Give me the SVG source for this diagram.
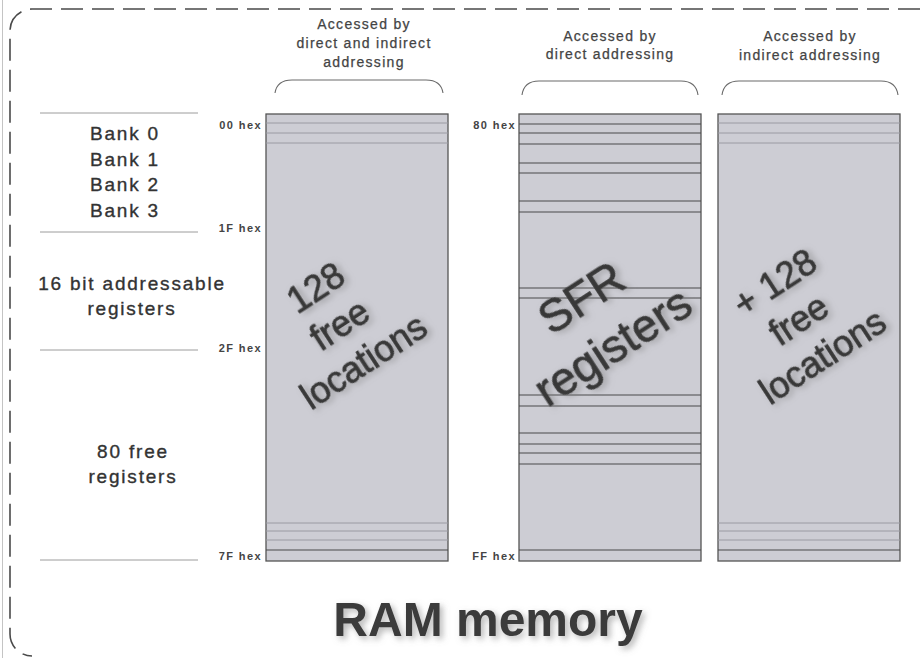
<svg xmlns="http://www.w3.org/2000/svg" width="920" height="658" viewBox="0 0 920 658">
<defs>
<style>
.frame{fill:none;stroke:#4a4a4a;stroke-width:1.6;stroke-dasharray:22 9}
.col{fill:#cdcdd4;stroke:#555;stroke-width:1.3}
.faint{stroke:#9a9aa2;stroke-width:1}
.dark{stroke:#4a4a4a;stroke-width:1.2}
.sep{stroke:#9c9c9c;stroke-width:1}
.brace{fill:none;stroke:#6a6a6a;stroke-width:1.1}
.hdr{font-family:"Liberation Sans",Arial,sans-serif;font-size:14px;fill:#444;stroke:#444;stroke-width:0.25;text-anchor:middle;letter-spacing:1.3px}
.lbl{font-family:"Liberation Sans",Arial,sans-serif;font-size:19px;fill:#333;stroke:#333;stroke-width:0.35;text-anchor:middle;letter-spacing:1.8px}
.hex{font-family:"Liberation Sans",Arial,sans-serif;font-size:11px;font-weight:bold;fill:#444;letter-spacing:1.4px;text-anchor:end}
.big{font-family:"Liberation Sans",Arial,sans-serif;fill:#383838;stroke:#383838;stroke-width:0.8;text-anchor:middle}
.title{font-family:"Liberation Sans",Arial,sans-serif;font-size:48px;font-weight:bold;fill:#3a3a3a;text-anchor:middle}
</style>
<filter id="sh" x="-20%" y="-20%" width="140%" height="140%">
<feDropShadow dx="3" dy="3" stdDeviation="3" flood-color="#777" flood-opacity="0.55"/>
</filter>
</defs>
<rect width="920" height="658" fill="#ffffff"/>
<line x1="2.5" y1="0" x2="2.5" y2="658" stroke="#c4c4c4" stroke-width="1"/>
<path class="frame" d="M 920 9 L 32 9 A 22 22 0 0 0 10 31 L 10 634 A 22 22 0 0 0 32 656"/>

<g id="left-labels">
<line class="sep" x1="40" y1="113" x2="198" y2="113"/>
<line class="sep" x1="40" y1="232" x2="198" y2="232"/>
<line class="sep" x1="40" y1="350" x2="198" y2="350"/>
<line class="sep" x1="40" y1="560" x2="198" y2="560"/>
<text class="lbl" x="125" y="140">Bank 0</text>
<text class="lbl" x="125" y="166">Bank 1</text>
<text class="lbl" x="125" y="191">Bank 2</text>
<text class="lbl" x="125" y="217">Bank 3</text>
<text class="lbl" x="132" y="290">16 bit addressable</text>
<text class="lbl" x="132" y="315">registers</text>
<text class="lbl" x="133" y="458">80 free</text>
<text class="lbl" x="133" y="483">registers</text>
</g>

<g id="hex-labels">
<text class="hex" x="262" y="129">00 hex</text>
<text class="hex" x="262" y="232">1F hex</text>
<text class="hex" x="262" y="352">2F hex</text>
<text class="hex" x="262" y="560">7F hex</text>
<text class="hex" x="516" y="129">80 hex</text>
<text class="hex" x="516" y="560">FF hex</text>
</g>

<g id="col1">
<text class="hdr" x="364" y="29">Accessed by</text>
<text class="hdr" x="364" y="48">direct and indirect</text>
<text class="hdr" x="364" y="67">addressing</text>
<path class="brace" d="M 275 93 Q 277 80 292 80 L 426 80 Q 441 80 443 93"/>
<rect class="col" x="266" y="114" width="182" height="447"/>
<line class="faint" x1="266" y1="123" x2="448" y2="123"/>
<line class="faint" x1="266" y1="133" x2="448" y2="133"/>
<line class="faint" x1="266" y1="143" x2="448" y2="143"/>
<line class="faint" x1="266" y1="523" x2="448" y2="523"/>
<line class="faint" x1="266" y1="531" x2="448" y2="531"/>
<line class="faint" x1="266" y1="540" x2="448" y2="540"/>
<line class="dark" x1="266" y1="550" x2="448" y2="550"/>
<g transform="translate(340 325) rotate(-33)" filter="url(#sh)">
<text class="big" font-size="36" x="0" y="-32">128</text>
<text class="big" font-size="36" x="0" y="12">free</text>
<text class="big" font-size="36" x="0" y="56">locations</text>
</g>
</g>

<g id="col2">
<text class="hdr" x="610" y="41">Accessed by</text>
<text class="hdr" x="610" y="59">direct addressing</text>
<path class="brace" d="M 522 95 Q 524 81 539 81 L 681 81 Q 696 81 698 95"/>
<rect class="col" x="519" y="114" width="182" height="447"/>
<g class="dark">
<line x1="519" y1="124" x2="701" y2="124"/>
<line x1="519" y1="133" x2="701" y2="133"/>
<line x1="519" y1="144" x2="701" y2="144"/>
<line x1="519" y1="163" x2="701" y2="163"/>
<line x1="519" y1="173" x2="701" y2="173"/>
<line x1="519" y1="201" x2="701" y2="201"/>
<line x1="519" y1="212" x2="701" y2="212"/>
<line x1="519" y1="288" x2="701" y2="288"/>
<line x1="519" y1="298" x2="701" y2="298"/>
<line x1="519" y1="395" x2="701" y2="395"/>
<line x1="519" y1="406" x2="701" y2="406"/>
<line x1="519" y1="433" x2="701" y2="433"/>
<line x1="519" y1="444" x2="701" y2="444"/>
<line x1="519" y1="453" x2="701" y2="453"/>
<line x1="519" y1="464" x2="701" y2="464"/>
<line x1="519" y1="550" x2="701" y2="550"/>
</g>
<g transform="translate(597 322) rotate(-33)" filter="url(#sh)">
<text class="big" font-size="46" stroke-width="1.1" x="0" y="-13">SFR</text>
<text class="big" font-size="46" stroke-width="1.1" x="0" y="45">registers</text>
</g>
</g>

<g id="col3">
<text class="hdr" x="810" y="41">Accessed by</text>
<text class="hdr" x="810" y="60">indirect addressing</text>
<path class="brace" d="M 722 95 Q 724 81 739 81 L 881 81 Q 896 81 898 95"/>
<rect class="col" x="718" y="114" width="182" height="447"/>
<line class="faint" x1="718" y1="123" x2="900" y2="123"/>
<line class="faint" x1="718" y1="133" x2="900" y2="133"/>
<line class="faint" x1="718" y1="143" x2="900" y2="143"/>
<line class="faint" x1="718" y1="523" x2="900" y2="523"/>
<line class="faint" x1="718" y1="531" x2="900" y2="531"/>
<line class="faint" x1="718" y1="540" x2="900" y2="540"/>
<line class="dark" x1="718" y1="550" x2="900" y2="550"/>
<g transform="translate(799 320) rotate(-33)" filter="url(#sh)">
<text class="big" font-size="36" x="0" y="-32">+ 128</text>
<text class="big" font-size="36" x="0" y="12">free</text>
<text class="big" font-size="36" x="0" y="56">locations</text>
</g>
</g>

<g id="title" filter="url(#sh)">
<text class="title" x="488" y="636">RAM memory</text>
</g>
</svg>
